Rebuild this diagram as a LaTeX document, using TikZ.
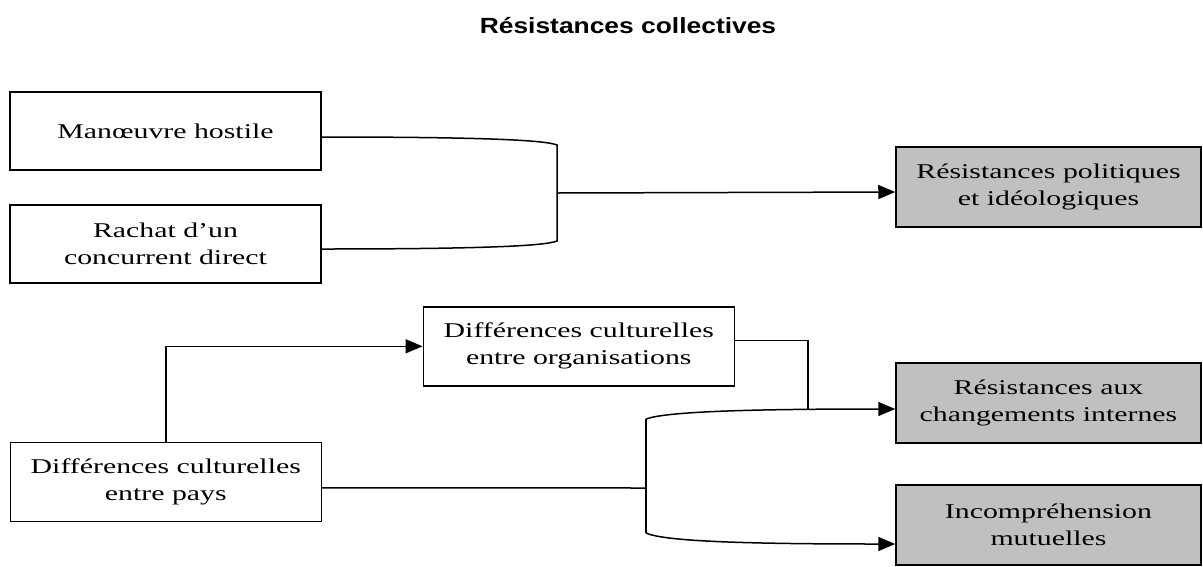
\documentclass[tikz,border=0pt]{standalone}
\usepackage{fontspec}
\setmainfont{Liberation Serif}
\newfontfamily\boxfont{Liberation Serif}[FakeStretch=1.42]
\newfontfamily\titlefont{Liberation Sans}[FakeStretch=1.2]
\usetikzlibrary{arrows.meta,calc}
\definecolor{resgray}{RGB}{192,192,192}
\tikzset{
  box/.style={draw=black, line width=1.5pt, minimum width=311pt, minimum height=78pt,
    inner sep=0pt, align=center, font={\boxfont\fontsize{21}{27}\selectfont}},
  resbox/.style={box, fill=resgray, minimum width=305pt, minimum height=80pt},
  link/.style={draw=black, line width=1.5pt},
  arr/.style={link, -{Triangle[length=17pt,width=14pt]}}
}
\begin{document}
\begin{tikzpicture}[x=1pt, y=-1pt]
  \useasboundingbox (0,0) rectangle (1203,566);

  \node[anchor=base, font={\titlefont\bfseries\fontsize{22}{26}\selectfont}] (title) at (628,33) {Résistances collectives};

  % source boxes
  \node[box] (A) at (165.5,131) {Manœuvre hostile};
  \node[box] (B) at (165.5,244) {Rachat d’un\\concurrent direct};
  \node[box, minimum height=79pt] (C) at (578.8,346.3) {Différences culturelles\\entre organisations};
  \node[box, minimum height=79pt] (D) at (165.8,481.8) {Différences culturelles\\entre pays};

  % resulting resistances
  \node[resbox] (R1) at (1048.5,187) {Résistances politiques\\et idéologiques};
  \node[resbox] (R2) at (1048.5,403) {Résistances aux\\changements internes};
  \node[resbox] (R3) at (1048.5,525) {Incompréhension\\mutuelles};

  % upper brace: hostile takeover and direct competitor
  \coordinate (ut) at (557,145);
  \coordinate (ub) at (557,241);
  \coordinate (um) at (557,193);
  \draw[link] ($(A.east)+(0,6)$) .. controls (480,137) and (545,140) .. (ut)
    -- (ub) .. controls (545,246) and (480,249) .. ($(B.east)+(0,5)$);
  \draw[arr] (um) -- ($(R1.west)+(0,5)$);

  % country differences feed organisational differences
  \draw[arr] (D.north) |- (C.west);

  % lower brace: country differences
  \coordinate (lt) at (646,419);
  \coordinate (lb) at (646,533);
  \coordinate (lm) at (646,488);
  \coordinate (cj) at (808,409);
  \draw[link] ($(D.east)+(0,6)$) -- (lm);
  \draw[link] (lt) -- (lb);
  \draw[arr] (lt) .. controls (665,412) and (740,409) .. ($(R2.west)+(0,6)$);
  \draw[arr] (lb) .. controls (665,542) and (760,544) .. ($(R3.west)+(0,19)$);

  % organisational differences join the internal-change arrow
  \draw[link] ($(C.east)+(0,-5.6)$) -| (cj);
\end{tikzpicture}
\end{document}
